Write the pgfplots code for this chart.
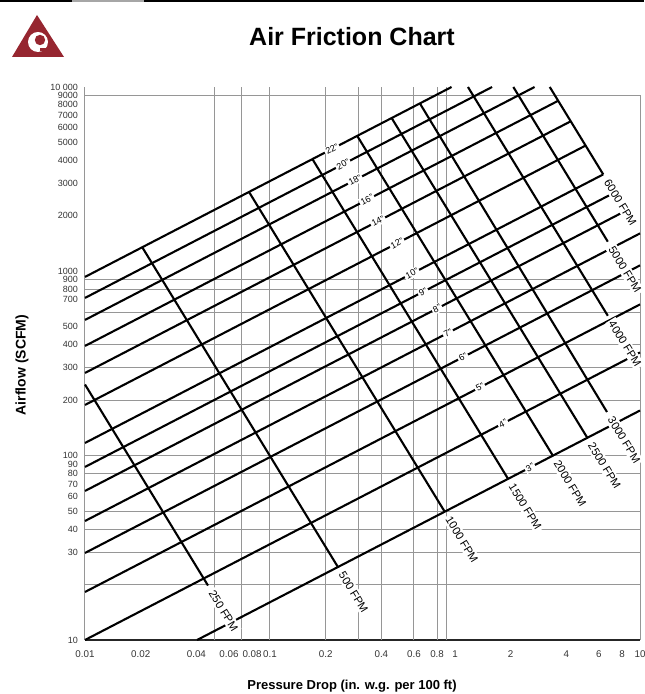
\documentclass[border=0pt]{standalone}
\usepackage{fontspec}
\setmainfont{Liberation Sans}
\usepackage{pgfplots}
\pgfplotsset{compat=1.18}
\definecolor{logored}{RGB}{150,38,48}
\definecolor{gridgray}{RGB}{150,150,150}
\tikzset{
  diag/.style={black, line width=1.05pt},
  dlab/.style={fill=white, inner sep=0.7pt, rotate=27.4, font=\fontsize{4.5}{5}\selectfont},
  vlab/.style={fill=white, inner sep=1pt, outer sep=2.5pt, anchor=west, rotate=-58.5, font=\fontsize{5.6}{7}\selectfont},
}
\begin{document}
\begin{tikzpicture}
\path[use as bounding box] (0pt,0pt) rectangle (322pt,347pt);
% top border strip
\draw[line width=1pt] (0pt,346.5pt) -- (36pt,346.5pt);
\draw[line width=1pt,black!35] (36pt,346.5pt) -- (72pt,346.5pt);
\draw[line width=1pt] (72pt,346.5pt) -- (322pt,346.5pt);
% logo
\fill[logored] (18.5pt,339.5pt) -- (6pt,318.5pt) -- (32pt,318.5pt) -- cycle;
\fill[white] (19pt,326pt) circle (5pt);
\fill[logored] (20pt,327pt) circle (2.6pt);
\fill[logored] (20pt,321.5pt) rectangle (27pt,323pt);
% title and axis titles
\node[font=\fontsize{12.5}{14}\selectfont\bfseries] at (176pt,328.5pt) {Air Friction Chart};
\node[font=\fontsize{6.5}{8}\selectfont\bfseries] at (176pt,4pt) {Pressure Drop (in. w.g. per 100 ft)};
\node[font=\fontsize{7}{8}\selectfont\bfseries, rotate=90] at (11pt,164.5pt) {Airflow (SCFM)};
\begin{axis}[
  at={(42.5pt,27pt)}, anchor=south west,
  scale only axis, width=277.5pt, height=276.5pt,
  xmode=log, ymode=log,
  xmin=0.01, xmax=10, ymin=10, ymax=10000,
  axis x line*=bottom, axis y line*=left,
  x axis line style={-, black!85, line width=0.8pt},
  y axis line style={-, gridgray, line width=0.5pt},
  clip=false,
  major tick length=0pt, minor tick length=0pt,
  xminorticks=false, yminorticks=false,
  xtick={0.01,0.02,0.04,0.06,0.08,0.1,0.2,0.4,0.6,0.8,1,2,4,6,8,10},
  xticklabels={0.01,0.02,0.04,0.06,0.08,0.1,0.2,0.4,0.6,0.8,1,2,4,6,8,10},
  ytick={10,30,40,50,60,70,80,90,100,200,300,400,500,700,800,900,1000,2000,3000,4000,5000,6000,7000,8000,9000,10000},
  yticklabels={10,30,40,50,60,70,80,90,100,200,300,400,500,700,800,900,1000,2000,3000,4000,5000,6000,7000,8000,9000,10 000},
  xticklabel style={font=\fontsize{4.9}{6}\selectfont, text=black!80, yshift=-2pt},
  yticklabel style={font=\fontsize{4.5}{5}\selectfont, text=black!80},
  extra x ticks={0.05,0.07,0.1,0.2,0.3,0.4,0.6,0.8,0.9},
  extra x tick labels={},
  extra y ticks={20,30,40,50,80,100,200,300,400,600,800,900,9000},
  extra y tick labels={},
  extra tick style={grid=major, major grid style={gridgray, line width=0.5pt}},
]
\draw[gridgray, line width=0.5pt] (axis cs:10,10) -- (axis cs:10,9000);
% duct diameter lines
\addplot[diag] coordinates {(0.01,932.5) (0.9583,10000)};
\addplot[diag] coordinates {(0.01,717.4) (1.587,10000)};
\addplot[diag] coordinates {(0.01,545.0) (2.693,10000)};
\addplot[diag] coordinates {(0.01,393.8) (3.613,8419)};
\addplot[diag] coordinates {(0.01,281.0) (4.223,6516)};
\addplot[diag] coordinates {(0.01,188.4) (5.082,4811)};
\addplot[diag] coordinates {(0.01,117.2) (6.329,3356)};
\addplot[diag] coordinates {(0.01,86.85) (7.271,2672)};
\addplot[diag] coordinates {(0.01,64.35) (8.356,2128)};
\addplot[diag] coordinates {(0.01,44.22) (10,1606)};
\addplot[diag] coordinates {(0.01,29.66) (10,1077)};
\addplot[diag] coordinates {(0.01,18.22) (10,661.5)};
\addplot[diag] coordinates {(0.01,10) (10,363.1)};
\addplot[diag] coordinates {(0.04035,10) (10,175.8)};
% velocity lines
\addplot[diag] coordinates {(0.01,243.2) (0.04623,19.75)};
\addplot[diag] coordinates {(0.02039,1351) (0.2329,24.89)};
\addplot[diag] coordinates {(0.07702,2696) (0.8798,49.68)};
\addplot[diag] coordinates {(0.1696,4062) (1.936,74.86)};
\addplot[diag] coordinates {(0.2961,5430) (3.382,100.0)};
\addplot[diag] coordinates {(0.4546,6784) (5.192,125.0)};
\addplot[diag] coordinates {(0.6459,8147) (6.63,172.6)};
\addplot[diag] coordinates {(1.175,10000) (6.7,574)};
\addplot[diag] coordinates {(2.067,10000) (6.7,1448)};
\addplot[diag] coordinates {(3.252,10000) (6.329,3356)};
% diameter labels
\node[dlab] at (axis cs:0.2163,4611) {22"};
\node[dlab] at (axis cs:0.2481,3809) {20"};
\node[dlab] at (axis cs:0.2880,3128) {18"};
\node[dlab] at (axis cs:0.3344,2443) {16"};
\node[dlab] at (axis cs:0.3836,1872) {14"};
\node[dlab] at (axis cs:0.4859,1419) {12"};
\node[dlab] at (axis cs:0.5856,973) {10"};
\node[dlab] at (axis cs:0.6714,774) {9"};
\node[dlab] at (axis cs:0.7993,628) {8"};
\node[dlab] at (axis cs:0.9168,463.4) {7"};
\node[dlab] at (axis cs:1.105,342.4) {6"};
\node[dlab] at (axis cs:1.365,234.8) {5"};
\node[dlab] at (axis cs:1.818,149.6) {4"};
\node[dlab] at (axis cs:2.543,86.3) {3"};
% velocity labels
\node[vlab] at (axis cs:0.04623,19.75) {250 FPM};
\node[vlab] at (axis cs:0.2329,24.89) {500 FPM};
\node[vlab] at (axis cs:0.8798,49.68) {1000 FPM};
\node[vlab] at (axis cs:1.936,74.86) {1500 FPM};
\node[vlab] at (axis cs:3.382,100.0) {2000 FPM};
\node[vlab] at (axis cs:5.192,125.0) {2500 FPM};
\node[vlab] at (axis cs:6.63,172.6) {3000 FPM};
\node[vlab] at (axis cs:6.7,574) {4000 FPM};
\node[vlab] at (axis cs:6.7,1448) {5000 FPM};
\node[vlab] at (axis cs:6.329,3356) {6000 FPM};
\end{axis}
\end{tikzpicture}
\end{document}
